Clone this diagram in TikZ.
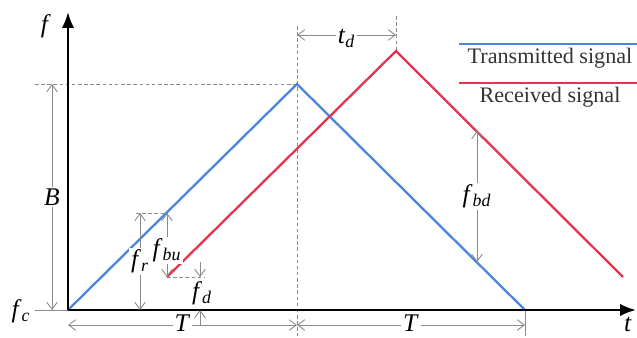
\documentclass[tikz,border=0pt]{standalone}
\usepackage{fontspec}
\setmainfont{LiberationSerif}[Extension=.ttf,UprightFont=*-Regular,ItalicFont=*-Italic,BoldFont=*-Bold,BoldItalicFont=*-BoldItalic]
\usetikzlibrary{arrows.meta,positioning,calc}
\definecolor{txblue}{HTML}{4A86E0}
\definecolor{rxred}{HTML}{E6334F}
\definecolor{dimgray}{HTML}{8A8A8A}
\newcommand{\vsym}[2]{\textit{#1}\textsubscript{\textit{#2}}}
\tikzset{
  axis/.style={-{Latex[length=9pt,width=7pt]},line width=1.3pt,draw=black},
  txsig/.style={line width=1.3pt,draw=txblue},
  rxsig/.style={line width=1.3pt,draw=rxred},
  dimarr/.style={{Straight Barb[length=4pt,width=6pt]}-{Straight Barb[length=4pt,width=6pt]},line width=0.5pt,draw=dimgray},
  dimend/.style={-{Straight Barb[length=4pt,width=6pt]},line width=0.5pt,draw=dimgray},
  guide/.style={dash pattern=on 2pt off 1.5pt,line width=0.5pt,draw=dimgray},
  sym/.style={font=\fontsize{14.5}{16}\selectfont,inner sep=1pt},
  symbg/.style={sym,fill=white},
  legtxt/.style={font=\fontsize{12.6}{15}\selectfont,text=black!80,inner sep=0pt},
}
\begin{document}
\begin{tikzpicture}[x=0.02cm,y=-0.02cm]
  \useasboundingbox (0,0) rectangle (637,338);
  % key points
  \coordinate (o) at (68,310);
  \coordinate (ytop) at (68,12);
  \coordinate (xend) at (636,310);
  \coordinate (txpk) at (297,84);
  \coordinate (txend) at (525,310);
  \coordinate (rxst) at (167,277);
  \coordinate (rxpk) at (396,51);
  \coordinate (rxend) at (623,277);
  \coordinate (txmid) at (167,213);
  \coordinate (bdtop) at (477,131);
  \coordinate (bdbot) at (477,262);
  % guide lines
  \draw[guide] (35,84) -- (txpk);
  \draw[guide] (297,26) -- (297,336);
  \draw[guide] (396,16) -- (rxpk);
  \draw[guide] (136,213) -- (txmid);
  \draw[guide] (rxst) -- (205,277);
  \draw[dimgray,line width=0.5pt] (35,310) -- (o);
  \draw[dimgray,line width=0.5pt] (525,310) -- (525,336);
  % signals
  \draw[txsig] (o) -- (txpk) -- (txend);
  \draw[rxsig] (rxst) -- (rxpk) -- (rxend);
  % axes
  \draw[axis] (o) -- (ytop);
  \draw[axis] (o) -- (xend);
  \node[sym] (flab) at (46,26) {\textit{f}};
  \node[sym] (tlab) at (628,324) {\textit{t}};
  \node[sym] (fclab) at (21,311) {\vsym{f}{c}};
  % dimensions
  \draw[dimarr] (52,84) -- (52,310) node[symbg,midway] (blab) {\textit{B}};
  \draw[dimarr] (140,213) -- (140,310) node[symbg,midway] (frlab) {\vsym{f}{r}};
  \draw[dimarr] (txmid) -- (rxst) node[symbg,midway,xshift=0pt,yshift=-3pt] (fbulab) {\vsym{f}{bu}};
  \draw[dimend] (200,262) -- (200,277);
  \draw[dimend] (200,326) -- (200,310);
  \node[sym] (fdlab) at (202,293) {\vsym{f}{d}};
  \draw[dimarr] (68,325) -- (297,325) node[symbg,midway,yshift=1pt] (t1lab) {\textit{T}};
  \draw[dimarr] (297,325) -- (525,325) node[symbg,midway,yshift=1pt] (t2lab) {\textit{T}};
  \draw[dimarr] (297,35) -- (396,35) node[symbg,midway,yshift=-2pt] (tdlab) {\vsym{t}{d}};
  \draw[dimarr] (bdtop) -- (bdbot) node[symbg,midway] (fbdlab) {\vsym{f}{bd}};
  % legend
  \draw[txsig,line width=1pt] (459,44) -- (637,44);
  \draw[rxsig,line width=1pt] (459,83) -- (637,83);
  \node[legtxt] (txleg) at (550,58) {Transmitted signal};
  \node[legtxt] (rxleg) at (550,97) {Received signal};
\end{tikzpicture}
\end{document}
